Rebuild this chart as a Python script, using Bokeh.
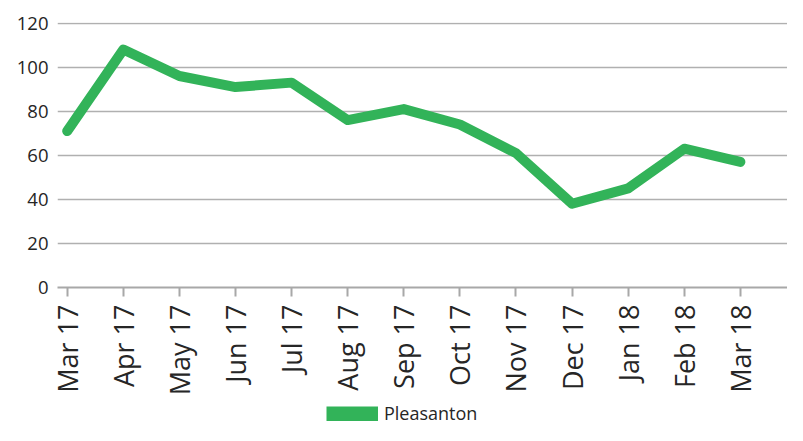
import math
from bokeh.plotting import figure
from bokeh.layouts import column
from bokeh.models import (Range1d, FixedTicker, ColumnDataSource, Legend, LegendItem)
from bokeh.embed import file_html
from bokeh.resources import INLINE

months = ["Mar 17", "Apr 17", "May 17", "Jun 17", "Jul 17", "Aug 17", "Sep 17",
          "Oct 17", "Nov 17", "Dec 17", "Jan 18", "Feb 18", "Mar 18"]
pleasanton = [71, 108, 96, 91, 93, 76, 81, 74, 61, 38, 45, 63, 57]
y_ticks = [0, 20, 40, 60, 80, 100, 120]
series_name = "Pleasanton"

GREEN = "#32B359"
GRAY = "#A8A8A8"
TEXT = "#262626"
FONT = "Open Sans"

idx = list(range(len(months)))
src = ColumnDataSource(dict(x=idx, y=pleasanton))

p = figure(width=787, height=400, output_backend="svg", toolbar_location=None,
           x_range=Range1d(-0.173, 12.84), y_range=Range1d(0, 120.3),
           min_border_left=57, min_border_right=0, min_border_top=22,
           min_border_bottom=113)
p.outline_line_color = None
p.background_fill_color = "white"
p.border_fill_color = "white"

p.line("x", "y", source=src, line_color=GREEN, line_width=10,
       line_join="round", line_cap="round")

# x axis
xa = p.xaxis[0]
xa.ticker = FixedTicker(ticks=idx)
xa.major_label_overrides = {i: m for i, m in zip(idx, months)}
xa.major_label_orientation = math.pi / 2
xa.major_label_text_font = FONT
xa.major_label_text_font_size = "27px"
xa.major_label_text_color = TEXT
xa.major_label_standoff = 8
xa.axis_line_color = GRAY
xa.axis_line_width = 2
xa.major_tick_line_color = GRAY
xa.major_tick_line_width = 2
xa.major_tick_out = 9
xa.major_tick_in = 0
xa.minor_tick_line_color = None

# y axis
ya = p.yaxis[0]
ya.ticker = FixedTicker(ticks=y_ticks)
ya.axis_line_color = None
ya.major_tick_line_color = None
ya.minor_tick_line_color = None
ya.major_tick_out = 0
ya.major_tick_in = 0
ya.major_label_standoff = 9
ya.major_label_text_font = FONT
ya.major_label_text_font_size = "18.5px"
ya.major_label_text_color = TEXT

p.xgrid.grid_line_color = None
p.ygrid.ticker = FixedTicker(ticks=y_ticks)
p.ygrid.grid_line_color = "#B0B0B0"
p.ygrid.grid_line_width = 1.3

# legend strip: the series is drawn outside the strip's visible range so only
# its legend swatch (a thick butt-capped line = solid bar) shows
lg = figure(width=787, height=25, output_backend="svg", toolbar_location=None,
            x_range=Range1d(1000, 1001), y_range=Range1d(1000, 1001),
            x_axis_location=None, y_axis_location=None,
            min_border_left=0, min_border_right=0, min_border_top=0,
            min_border_bottom=0)
lg.outline_line_color = None
lg.grid.grid_line_color = None
lg.background_fill_color = "white"
lg.border_fill_color = "white"
swatch = lg.line("x", "y", source=src, line_color=GREEN, line_width=15,
                 line_cap="butt")
legend = Legend(items=[LegendItem(label=series_name, renderers=[swatch])],
                location=(269, 0), orientation="horizontal",
                glyph_width=52, glyph_height=15, label_standoff=6,
                label_text_font=FONT, label_text_font_size="18px",
                label_text_color=TEXT, padding=0, margin=0, spacing=0,
                border_line_color=None, background_fill_alpha=0)
lg.add_layout(legend, "center")

layout = column(p, lg, spacing=0)
open("out.html", "w").write(file_html(layout, INLINE))
